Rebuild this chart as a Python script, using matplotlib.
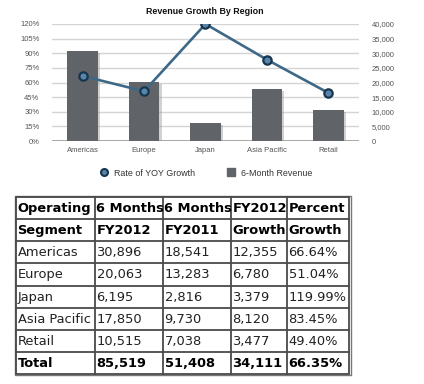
import matplotlib
matplotlib.use("Agg")
import matplotlib.pyplot as plt
import matplotlib.patheffects as pe
from matplotlib.lines import Line2D
from matplotlib.patches import Rectangle

# ---- data ----
regions = ["Americas", "Europe", "Japan", "Asia Pacific", "Retail"]
revenue_fy2012 = [30896, 20063, 6195, 17850, 10515]
revenue_fy2011 = [18541, 13283, 2816, 9730, 7038]
growth_abs = [12355, 6780, 3379, 8120, 3477]
growth_pct = [66.64, 51.04, 119.99, 83.45, 49.40]
pct_ticks = [0, 15, 30, 45, 60, 75, 90, 105, 120]
rev_ticks = [0, 5000, 10000, 15000, 20000, 25000, 30000, 35000, 40000]

header1 = ["Operating", "6 Months", "6 Months", "FY2012", "Percent"]
header2 = ["Segment", "FY2012", "FY2011", "Growth", "Growth"]
row_labels = ["Americas", "Europe", "Japan", "Asia Pacific", "Retail"]
col_fy2012 = ["30,896", "20,063", "6,195", "17,850", "10,515"]
col_fy2011 = ["18,541", "13,283", "2,816", "9,730", "7,038"]
col_growth = ["12,355", "6,780", "3,379", "8,120", "3,477"]
col_pct = ["66.64%", "51.04%", "119.99%", "83.45%", "49.40%"]
total_row = ["Total", "85,519", "51,408", "34,111", "66.35%"]

W, H = 424, 384
fig = plt.figure(figsize=(W / 100, H / 100), dpi=100)
fig.patch.set_facecolor("white")

def fx(px):
    return px / W

def fy(py):
    return 1 - py / H

# ---- chart ----
left, right, top, bottom = 52, 359, 24, 141
ax = fig.add_axes([fx(left), fy(bottom), fx(right - left), (bottom - top) / H])
x = list(range(len(regions)))
bars = ax.bar(x, revenue_fy2012, width=0.5, color="#606367", zorder=3)
for b in bars:
    b.set_path_effects([pe.SimplePatchShadow(offset=(1.5, -1.5), shadow_rgbFace="#999999", alpha=0.45),
                        pe.Normal()])
ax.set_ylim(0, 40000)
ax.set_xlim(-0.5, len(regions) - 0.5)
ax.set_xticks(x)
ax.set_xticklabels(regions)
for s in ax.spines.values():
    s.set_visible(False)
ax.grid(axis="y", color="#d4d4d4", linewidth=1.0, zorder=0)
ax.set_axisbelow(True)
ax.axhline(0, color="#9a9a9a", linewidth=1.2, zorder=2)

ax2 = ax.twinx()
ax2.plot(x, growth_pct, color="#3e6887", linewidth=1.9, marker="o",
         markersize=6, markerfacecolor="#5a85a8", markeredgecolor="#16364f",
         markeredgewidth=1.6, zorder=5)
ax2.set_ylim(0, 120)
ax2.set_yticks(pct_ticks)
ax2.set_yticklabels([f"{v}%" for v in pct_ticks])
ax2.yaxis.tick_left()
for s in ax2.spines.values():
    s.set_visible(False)
ax2.tick_params(axis="y", length=0, labelsize=5.5, labelcolor="#555555", pad=9)
for t in ax2.get_yticklabels():
    t.set_family("Liberation Sans")

# revenue axis on the right (set after twinx)
ax.yaxis.tick_right()
ax.set_yticks(rev_ticks)
ax.set_yticklabels([f"{v:,}" for v in rev_ticks])
ax.tick_params(axis="both", length=0, labelsize=5.5, labelcolor="#555555")
ax.tick_params(axis="y", pad=9)
ax.tick_params(axis="x", pad=4)
for t in ax.get_xticklabels() + ax.get_yticklabels():
    t.set_family("Liberation Sans")

fig.text(fx(205), fy(11), "Revenue Growth By Region", ha="center", va="center",
         fontsize=6.4, fontweight="bold", family="Liberation Sans", color="#111111")

handles = [
    Line2D([], [], linestyle="none", marker="o", markersize=5,
           markerfacecolor="#5a85a8", markeredgecolor="#16364f", markeredgewidth=1.5),
    Line2D([], [], linestyle="none", marker="s", markersize=5.5,
           markerfacecolor="#606367", markeredgecolor="#606367"),
]
fig.legend(handles, ["Rate of YOY Growth", "6-Month Revenue"], loc="center",
           bbox_to_anchor=(fx(206), fy(173)), ncol=2, frameon=False,
           prop={"family": "Liberation Sans", "size": 6.4}, labelcolor="#333333",
           columnspacing=3.6, handletextpad=0.6, handlelength=1.0)

# ---- table ----
tax = fig.add_axes([0, 0, 1, 1])
tax.set_xlim(0, W)
tax.set_ylim(H, 0)
tax.axis("off")

col_edges = [16, 95, 163, 231, 287, 349]
row_edges = [197, 219.3, 241.3, 263.3, 285.5, 307.7, 329.8, 351.7, 373.5]
line_col = "#4a4a4a"

# outer double border
tax.add_patch(Rectangle((14.5, 195.5), 336.0, 179.5, fill=False,
                        edgecolor="#777777", linewidth=1.0))
tax.add_patch(Rectangle((col_edges[0], row_edges[0]), col_edges[-1] - col_edges[0],
                        row_edges[-1] - row_edges[0], fill=False,
                        edgecolor=line_col, linewidth=1.3))
for xe in col_edges[1:-1]:
    tax.plot([xe, xe], [row_edges[0], row_edges[-1]], color=line_col, linewidth=1.3)
for ye in row_edges[1:-1]:
    tax.plot([col_edges[0], col_edges[-1]], [ye, ye], color=line_col, linewidth=1.3)

rows = [header1, header2]
for i in range(len(row_labels)):
    rows.append([row_labels[i], col_fy2012[i], col_fy2011[i], col_growth[i], col_pct[i]])
rows.append(total_row)
bold_rows = {0, 1, len(rows) - 1}
for r, row in enumerate(rows):
    yc = (row_edges[r] + row_edges[r + 1]) / 2
    for c, txt in enumerate(row):
        tax.text(col_edges[c] + 1.5, yc + 0.5, txt, ha="left", va="center",
                 fontsize=9.4, family="DejaVu Sans",
                 fontweight="bold" if r in bold_rows else "normal",
                 color="#000000" if r in bold_rows else "#222222")

fig.savefig("out.png", dpi=100, facecolor="white")
